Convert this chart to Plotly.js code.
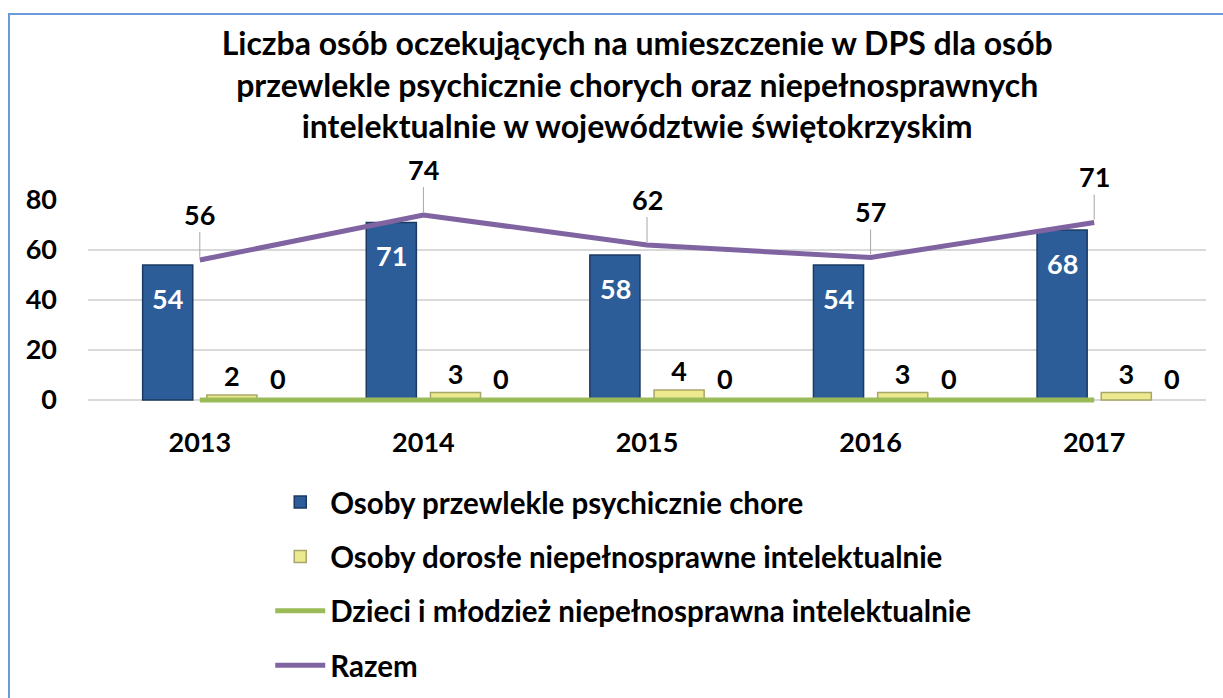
<!DOCTYPE html>
<html>
<head>
<meta charset="utf-8">
<script src="https://cdn.plot.ly/plotly-3.0.1.min.js"></script>
<style>
  html, body { margin: 0; padding: 0; background: #fff; }
  #chart { width: 1223px; height: 698px; }
  #frame { position: absolute; left: 8px; top: 13px; width: 1400px; height: 900px;
           border-left: 2px solid #6A9BD8; border-top: 2px solid #6A9BD8; pointer-events: none; }
</style>
</head>
<body>
<div id="chart"></div>
<div id="frame"></div>
<script>
const years = ['2013', '2014', '2015', '2016', '2017'];
const chronicMental = [54, 71, 58, 54, 68];
const adultsIntellectual = [2, 3, 4, 3, 3];
const childrenIntellectual = [0, 0, 0, 0, 0];
const total = [56, 74, 62, 57, 71];

const seriesNames = [
  'Osoby przewlekle psychicznie chore',
  'Osoby dorosłe niepełnosprawne intelektualnie',
  'Dzieci i młodzież niepełnosprawna intelektualnie',
  'Razem'
];
const titleText = 'Liczba osób oczekujących na umieszczenie w DPS dla osób<br>przewlekle psychicznie chorych oraz niepełnosprawnych<br>intelektualnie w województwie świętokrzyskim';

const FONT = 'Lato, "Open Sans", sans-serif';
const LBL = 27;

const traces = [
  {
    type: 'bar', name: seriesNames[0], x: years, y: chronicMental,
    legendgroup: 'a',
    marker: { color: '#2D5D98', line: { color: '#1B3A62', width: 1.5 } },
    hoverinfo: 'x+y'
  },
  {
    type: 'bar', name: seriesNames[1], x: years, y: adultsIntellectual,
    legendgroup: 'b',
    marker: { color: '#EDE98F', line: { color: '#A8A66A', width: 1.5 } },
    text: adultsIntellectual.map(String),
    textposition: 'outside', textangle: 0, cliponaxis: false,
    outsidetextfont: { family: FONT, size: LBL, color: '#000000', weight: 700 },
    hoverinfo: 'x+y'
  },
  {
    type: 'scatter', mode: 'lines', name: seriesNames[2], x: years, y: childrenIntellectual,
    legendgroup: 'c', cliponaxis: false,
    line: { color: '#9BBB59', width: 5 }
  },
  {
    type: 'scatter', mode: 'lines', name: seriesNames[3], x: years, y: total,
    legendgroup: 'd', cliponaxis: false,
    line: { color: '#8064A2', width: 5 }
  }
];

const annotations = [];
years.forEach((yr, i) => {
  annotations.push({
    x: i, y: chronicMental[i], xref: 'x', yref: 'y',
    text: String(chronicMental[i]), showarrow: false,
    xshift: -32, yshift: -33,
    font: { family: FONT, size: LBL, color: '#ffffff', weight: 700 }
  });
  annotations.push({
    x: i, y: total[i], xref: 'x', yref: 'y',
    text: String(total[i]), showarrow: true, arrowhead: 0, arrowwidth: 1,
    arrowcolor: '#A6A6A6', ax: 0, ay: -46, standoff: 3,
    font: { family: FONT, size: LBL, color: '#000', weight: 700 }
  });
  annotations.push({
    x: i, y: childrenIntellectual[i], xref: 'x', yref: 'y',
    text: String(childrenIntellectual[i]), showarrow: false,
    xshift: 78, yshift: 22,
    font: { family: FONT, size: LBL, color: '#000', weight: 700 }
  });
});

const layout = {
  width: 1223, height: 698,
  margin: { l: 88, r: 17, t: 200, b: 294, autoexpand: false },
  paper_bgcolor: '#ffffff', plot_bgcolor: '#ffffff',
  font: { family: FONT, color: '#000' },
  title: {
    text: titleText,
    font: { family: FONT, size: 32, color: '#000', weight: 700 },
    xref: 'container', x: 0.521, xanchor: 'center',
    yref: 'container', y: 0.921, yanchor: 'top'
  },
  barmode: 'group', bargap: 0.426, bargroupgap: 0.219,
  showlegend: true,
  legend: {
    orientation: 'v', x: 0.163, xanchor: 'left', y: -0.355, yanchor: 'top',
    font: { family: FONT, size: 29.5, color: '#000', weight: 700 },
    tracegroupgap: 13, traceorder: 'grouped', itemwidth: 50,
    bgcolor: 'rgba(0,0,0,0)'
  },
  xaxis: {
    type: 'category', range: [-0.5, 4.5], autorange: false,
    showgrid: false, zeroline: false, showline: false,
    ticks: '', ticklabelstandoff: 20,
    tickfont: { family: FONT, size: LBL, color: '#000', weight: 700 }
  },
  yaxis: {
    range: [-1.6, 80], autorange: false, tickvals: [0, 20, 40, 60, 80],
    showgrid: true, gridcolor: '#D9D9D9', gridwidth: 2,
    zeroline: false, showline: false,
    ticks: '', ticklabelstandoff: 30,
    tickfont: { family: FONT, size: LBL, color: '#000', weight: 700 }
  },
  annotations: annotations
};

Plotly.newPlot('chart', traces, layout, { displayModeBar: false, staticPlot: true });
</script>
</body>
</html>
